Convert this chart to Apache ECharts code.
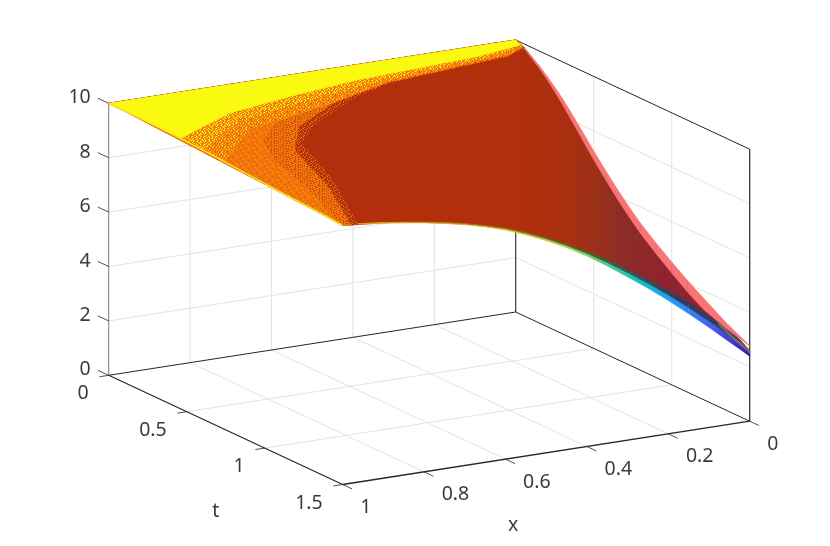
<!DOCTYPE html>
<html>
<head>
<meta charset="utf-8">
<style>
	html, body { margin: 0; background: #fff; }
	#chart { width: 830px; height: 546px; }
</style>
<script src="https://cdn.jsdelivr.net/npm/echarts@6/dist/echarts.min.js"></script>
</head>
<body>
<div id="chart"></div>
<script>
const xTicks = [0, 0.2, 0.4, 0.6, 0.8, 1]
const tTicks = [0, 0.5, 1, 1.5]
const zTicks = [0, 2, 4, 6, 8, 10]

// surface
const xCols = [0, 0.02, 0.05, 0.1, 0.15, 0.2, 0.3, 0.4, 0.5, 0.6, 0.7, 0.8, 0.9, 1]
const tRows = [0, 0.05, 0.1, 0.2, 0.3, 0.4, 0.5, 0.65, 0.8, 1, 1.2, 1.35, 1.5]
const zMain = [
	[10, 10, 10, 10, 10, 10, 10, 10, 10, 10, 10, 10, 10, 10],
	[9.86, 9.92, 9.98, 10, 10, 10, 10, 10, 10, 10, 10, 10, 10, 10],
	[9.65, 9.72, 9.86, 9.96, 9.99, 10, 10, 10, 10, 10, 10, 10, 10, 10],
	[9.15, 9.3, 9.5, 9.75, 9.9, 9.96, 10, 10, 10, 10, 10, 10, 10, 9.99],
	[8.55, 8.75, 9.05, 9.42, 9.65, 9.8, 9.95, 9.99, 10, 10, 10, 10, 9.99, 9.98],
	[7.85, 8.15, 8.5, 9.0, 9.32, 9.55, 9.85, 9.96, 9.99, 10, 10, 10, 9.98, 9.96],
	[7.1, 7.5, 7.95, 8.4, 8.9, 9.25, 9.7, 9.9, 9.97, 9.99, 10, 9.99, 9.96, 9.93],
	[6.1, 6.5, 7.05, 7.6, 8.2, 8.7, 9.4, 9.75, 9.9, 9.96, 9.98, 9.96, 9.92, 9.88],
	[5.2, 5.7, 6.2, 6.85, 7.6, 8.2, 9.05, 9.55, 9.78, 9.88, 9.92, 9.9, 9.86, 9.81],
	[4.3, 4.8, 5.3, 5.9, 6.7, 7.4, 8.55, 9.2, 9.55, 9.72, 9.82, 9.82, 9.78, 9.72],
	[3.55, 4, 4.55, 5.15, 5.95, 6.7, 7.95, 8.75, 9.25, 9.5, 9.66, 9.72, 9.7, 9.65],
	[2.93, 3.4, 3.95, 4.6, 5.3, 6, 7.2, 8.05, 8.7, 9.1, 9.4, 9.6, 9.62, 9.6],
	[2.55, 2.95, 3.42, 4.05, 4.67, 5.2, 6.2, 7.12, 7.88, 8.47, 8.88, 9.17, 9.39, 9.53],
]

// t = 1.5 edge of the layers under the main surface
const xEdge = [0, 0.02, 0.05, 0.1, 0.15, 0.2, 0.25, 0.3, 0.35, 0.4, 0.45, 0.5, 0.55, 0.6, 0.65, 0.7, 0.75, 0.8, 0.85, 0.9, 0.95, 1]
const zEdgeLow = [2.38, 2.65, 3.03, 3.68, 4.3, 4.9, 5.47, 6.0, 6.52, 7.0, 7.42, 7.8, 8.13, 8.42, 8.65, 8.85, 9.01, 9.15, 9.27, 9.38, 9.47, 9.53]
const zEdgeDark = [2.5, 2.82, 3.25, 3.9, 4.52, 5.1, 5.64, 6.15, 6.65, 7.1, 7.51, 7.87, 8.19, 8.47, 8.69, 8.88, 9.04, 9.17, 9.29, 9.39, 9.48, 9.53]
const zEdgeTop = [2.6, 2.98, 3.45, 4.1, 4.72, 5.27, 5.79, 6.27, 6.75, 7.17, 7.56, 7.92, 8.23, 8.5, 8.71, 8.9, 9.05, 9.18, 9.29, 9.4, 9.48, 9.53]

// x = 0 edge of the top layer
const tEdge = [0, 0.05, 0.1, 0.15, 0.2, 0.25, 0.3, 0.35, 0.4, 0.45, 0.5, 0.575, 0.65, 0.725, 0.8, 0.9, 1, 1.1, 1.2, 1.35, 1.5]
const zPinkOuter = [10, 9.88, 9.68, 9.47, 9.22, 8.95, 8.66, 8.33, 7.98, 7.63, 7.27, 6.76, 6.28, 5.83, 5.41, 4.95, 4.52, 4.12, 3.75, 3.22, 2.78]
const zPinkInner = [10, 9.85, 9.6, 9.36, 9.08, 8.76, 8.42, 8.05, 7.68, 7.3, 6.93, 6.4, 5.9, 5.44, 5.02, 4.54, 4.1, 3.68, 3.32, 3.0, 2.76]
// x = 0 edge of the grey layer, last rows only
const tGrey = [1.3, 1.4, 1.5]
const zGreyOuter = [3.12, 2.82, 2.62]
const zGreyInner = [3.0, 2.7, 2.5]

// colour boundaries on the surface, [x, t, z], outermost first
const regionSparse = [[1, 0, 10], [1, 1.5, 9.53], [0.96, 1.5, 9.45], [0.86, 1.06, 9.8], [0.79, 0.69, 9.9], [0.69, 0.52, 9.95], [0.52, 0.33, 10], [0.4, 0.24, 10], [0.07, 0.14, 9.93], [0, 0.055, 9.85], [0, 0, 10]]
const regionDense = [[1, 0, 10], [1, 1.5, 9.53], [0.98, 1.5, 9.5], [0.9, 1.15, 9.77], [0.83, 0.75, 9.88], [0.74, 0.54, 9.97], [0.57, 0.34, 10], [0.4, 0.235, 10], [0.07, 0.135, 9.94], [0, 0.052, 9.86], [0, 0, 10]]
const regionOrange = [[1, 0, 10], [1, 1.45, 9.56], [0.99, 1.42, 9.6], [0.94, 1.11, 9.75], [0.91, 0.84, 9.85], [0.855, 0.61, 9.95], [0.77, 0.47, 10], [0.6, 0.34, 10], [0.4, 0.23, 10], [0.07, 0.13, 9.95], [0, 0.05, 9.87], [0, 0, 10]]
const regionMixed = [[1, 0, 10], [1, 0.75, 9.85], [0.85, 0.5, 10], [0.72, 0.43, 10], [0.56, 0.34, 10], [0.4, 0.225, 10], [0.07, 0.125, 9.95], [0, 0.045, 9.88], [0, 0, 10]]
const regionMixedYellow = [[1, 0, 10], [1, 0.6, 9.9], [0.83, 0.39, 10], [0.68, 0.32, 10], [0.5, 0.24, 10], [0.3, 0.17, 10], [0.1, 0.115, 9.96], [0, 0.038, 9.89], [0, 0, 10]]
const regionYellow = [[1, 0, 10], [1, 0.46, 9.95], [0.815, 0.294, 10], [0.64, 0.22, 10], [0.45, 0.157, 10], [0.13, 0.1, 9.97], [0, 0.03, 9.9], [0, 0, 10]]
const zEdgeX1 = [10, 10, 10, 9.99, 9.98, 9.96, 9.93, 9.88, 9.81, 9.72, 9.65, 9.6, 9.53]

// speckle tiles: y yellow, l light orange, o orange, m dark orange, r red
const tileSparse = [
	'rrmorrrorrmr',
	'rorrrmorrrro',
	'orrmrrrrorrr',
	'rrrorrmrrrom',
	'rmrrrorrrorr',
	'orrrorrmrrrr',
	'rrorrrrorrmo',
	'rrrmorrrrorr',
]
const tileDense = [
	'oomooorooooo',
	'rooomoorooro',
	'oooroomoomoo',
	'moooroooomoo',
	'oomoooorooom',
	'rooomoooomro',
	'ooromooroooo',
	'omooooomoorm',
]
const tileOrange = [
	'oooooooomooo',
	'oomooloooooo',
	'ooooooooooom',
	'olooomoooooo',
	'oooooooolooo',
	'oooomooooooo',
	'mooooooooloo',
	'oooloooooooo',
]
const tileMixed = [
	'oolooyoolooo',
	'olooooyooolo',
	'oooyoolooyoo',
	'yoolooooyooo',
	'oooomyoolooo',
	'oyolooooooyo',
	'loooyooloooo',
	'ooloooyoolom',
]
const tileMixedYellow = [
	'ylooylooylol',
	'oolyoyoolooy',
	'lyoooloyyolo',
	'yoolylooolyo',
	'oylooylooyly',
	'lyoolyooyool',
	'yoolooyllyoo',
	'ooyolooylooo',
]

const tileColors = { y: '#fafa10', l: '#f8a80c', o: '#f2760a', m: '#d4530a', r: '#b02f0c' }

function makeTile(rows) {
	const cv = document.createElement('canvas')
	cv.width = rows[0].length
	cv.height = rows.length
	const ctx = cv.getContext('2d')
	rows.forEach((row, j) => {
		row.split('').forEach((c, i) => {
			ctx.fillStyle = tileColors[c]
			ctx.fillRect(i, j, 1, 1)
		})
	})
	return { image: cv, repeat: 'repeat' }
}

// matlab view: orthographic, so one screen vector per data axis
function project(x, t, z) {
	return [515.7 - 407 * x + 156 * t, 312 + 63.3 * x + 72.8 * t - 27.2 * z]
}

const hGrad = (stops) => new echarts.graphic.LinearGradient(
	0, 0, 830, 0, stops.map((s) => ({ offset: s[0] / 830, color: s[1] })), true
)
const mainFill = hGrad([[500, '#b32f0b'], [570, '#a92f10'], [600, '#98301a'], [625, '#8c2c28'], [665, '#90232e'], [750, '#8a2038']])
const jetFill = hGrad([[342, '#f8e818'], [430, '#f8d82a'], [490, '#f5bc30'], [530, '#d8c028'], [565, '#b0d038'], [600, '#5acb78'], [640, '#10c0c8'], [680, '#2a90f8'], [715, '#4a58f0'], [751, '#3010b8']])
const darkFill = hGrad([[342, '#c8b820'], [480, '#8a7a20'], [560, '#4a6a2a'], [620, '#2f6050'], [680, '#2a4060'], [730, '#353a6a'], [751, '#555566']])

const marks = []
const lineMark = (a, b, color, width) => marks.push({ kind: 'line', a, b, color, width })
const polyMark = (pts, fill, stroke, sw) => marks.push({ kind: 'poly', pts, fill, stroke, sw })
const textMark = (p, dx, dy, text, align) => marks.push({ kind: 'text', p, dx, dy, text, align })

const gridColor = '#e4e4e4'
const axisColor = '#262626'

// grid on the floor and the two back walls
xTicks.slice(1, -1).forEach((x) => {
	lineMark([x, 0, 0], [x, 1.5, 0], gridColor, 1)
	lineMark([x, 0, 0], [x, 0, 10], gridColor, 1)
})
tTicks.slice(1, -1).forEach((t) => {
	lineMark([0, t, 0], [1, t, 0], gridColor, 1)
	lineMark([0, t, 0], [0, t, 10], gridColor, 1)
})
zTicks.slice(1, -1).forEach((z) => {
	lineMark([1, 0, z], [0, 0, z], gridColor, 1)
	lineMark([0, 0, z], [0, 1.5, z], gridColor, 1)
})

// box
lineMark([1, 0, 0], [1, 0, 10], axisColor, 0.6)
lineMark([0, 0, 0], [0, 0, 10], axisColor, 1.1)
lineMark([0, 1.5, 0], [0, 1.5, 10], axisColor, 1.2)
lineMark([1, 0, 10], [0, 0, 10], axisColor, 0.9)
lineMark([0, 0, 10], [0, 1.5, 10], axisColor, 1)
lineMark([1, 0, 0], [0, 0, 0], axisColor, 1)
lineMark([0, 0, 0], [0, 1.5, 0], axisColor, 1)
lineMark([1, 0, 0], [1, 1.5, 0], axisColor, 1.2)
lineMark([1, 1.5, 0], [0, 1.5, 0], axisColor, 1.3)

// ticks and their labels
xTicks.forEach((x) => {
	lineMark([x, 1.5, 0], [x, 1.56, 0], axisColor, 0.8)
	textMark([x, 1.5, 0], 17.6, 23, String(x), 'left')
})
tTicks.forEach((t) => {
	lineMark([1, t, 0], [1.023, t, 0], axisColor, 0.8)
	textMark([1, t, 0], -20, 18.5, String(t), 'right')
})
zTicks.forEach((z) => {
	lineMark([1, 0, z], [1, -0.07, z], axisColor, 0.8)
	textMark([1, 0, z], -18, -5.5, String(z), 'right')
})
textMark([0.5, 1.5, 0], -33, 72.5, 'x', 'center')
textMark([1, 0.75, 0], -10, 82, 't', 'center')

// main surface cells
tRows.slice(0, -1).forEach((t, j) => {
	xCols.slice(0, -1).forEach((x, i) => {
		const t2 = tRows[j + 1]
		const x2 = xCols[i + 1]
		polyMark([[x, t, zMain[j][i]], [x2, t, zMain[j][i + 1]], [x2, t2, zMain[j + 1][i + 1]], [x, t2, zMain[j + 1][i]]], mainFill, mainFill, 1.2)
	})
})

// lower layers showing under the t = 1.5 edge
xEdge.slice(0, -1).forEach((x, i) => {
	const x2 = xEdge[i + 1]
	polyMark([[x, 1.5, zEdgeLow[i]], [x2, 1.5, zEdgeLow[i + 1]], [x2, 1.5, zEdgeDark[i + 1]], [x, 1.5, zEdgeDark[i]]], jetFill, jetFill, 0.4)
	polyMark([[x, 1.5, zEdgeDark[i]], [x2, 1.5, zEdgeDark[i + 1]], [x2, 1.5, zEdgeTop[i + 1]], [x, 1.5, zEdgeTop[i]]], darkFill, darkFill, 0.4)
})

// pink strip on the x = 0 side
tEdge.slice(0, -1).forEach((t, j) => {
	const t2 = tEdge[j + 1]
	polyMark([[0, t, zPinkInner[j]], [0, t, zPinkOuter[j]], [0, t2, zPinkOuter[j + 1]], [0, t2, zPinkInner[j + 1]]], '#f97474', '#f97474', 0.3)
})
tGrey.slice(0, -1).forEach((t, j) => {
	const t2 = tGrey[j + 1]
	polyMark([[0, t, zGreyInner[j]], [0, t, zGreyOuter[j]], [0, t2, zGreyOuter[j + 1]], [0, t2, zGreyInner[j + 1]]], '#6e6e60', '#6e6e60', 0.3)
})

// colour regions, outermost first
polyMark(regionSparse, makeTile(tileSparse))
polyMark(regionDense, makeTile(tileDense))
polyMark(regionOrange, makeTile(tileOrange))
polyMark(regionMixed, makeTile(tileMixed))
polyMark(regionMixedYellow, makeTile(tileMixedYellow))
polyMark(regionYellow, tileColors.y, tileColors.y, 0.5)

// thin yellow rim along x = 1
tRows.slice(0, -1).forEach((t, j) => {
	lineMark([1, t, zEdgeX1[j]], [1, tRows[j + 1], zEdgeX1[j + 1]], '#f8e818', 1.5)
})

function renderMark(params, api) {
	const m = marks[params.dataIndex]
	const pos = (p) => api.coord(project(p[0], p[1], p[2]))
	if (m.kind === 'line') {
		const a = pos(m.a)
		const b = pos(m.b)
		return {
			type: 'line',
			shape: { x1: a[0], y1: a[1], x2: b[0], y2: b[1] },
			style: { stroke: m.color, lineWidth: m.width },
		}
	}
	if (m.kind === 'poly') {
		return {
			type: 'polygon',
			shape: { points: m.pts.map(pos) },
			style: { fill: m.fill, stroke: m.stroke || null, lineWidth: m.sw || 0 },
		}
	}
	const c = pos(m.p)
	return {
		type: 'text',
		x: c[0] + m.dx,
		y: c[1] + m.dy,
		style: {
			text: m.text,
			fill: '#3a3a3a',
			font: '19.5px "Noto Sans"',
			align: m.align,
			verticalAlign: 'middle',
		},
	}
}

const myChart = echarts.init(document.getElementById('chart'), null, { renderer: 'canvas' })

myChart.setOption({
	backgroundColor: '#fff',
	animation: false,
	grid: { left: 0, right: 0, top: 0, bottom: 0 },
	xAxis: { type: 'value', min: 0, max: 830, show: false },
	yAxis: { type: 'value', min: 0, max: 546, inverse: true, show: false },
	series: [
		{
			type: 'custom',
			silent: true,
			clip: false,
			progressive: 0,
			renderItem: renderMark,
			data: marks.map((m, i) => [i]),
		},
	],
})
</script>
</body>
</html>
